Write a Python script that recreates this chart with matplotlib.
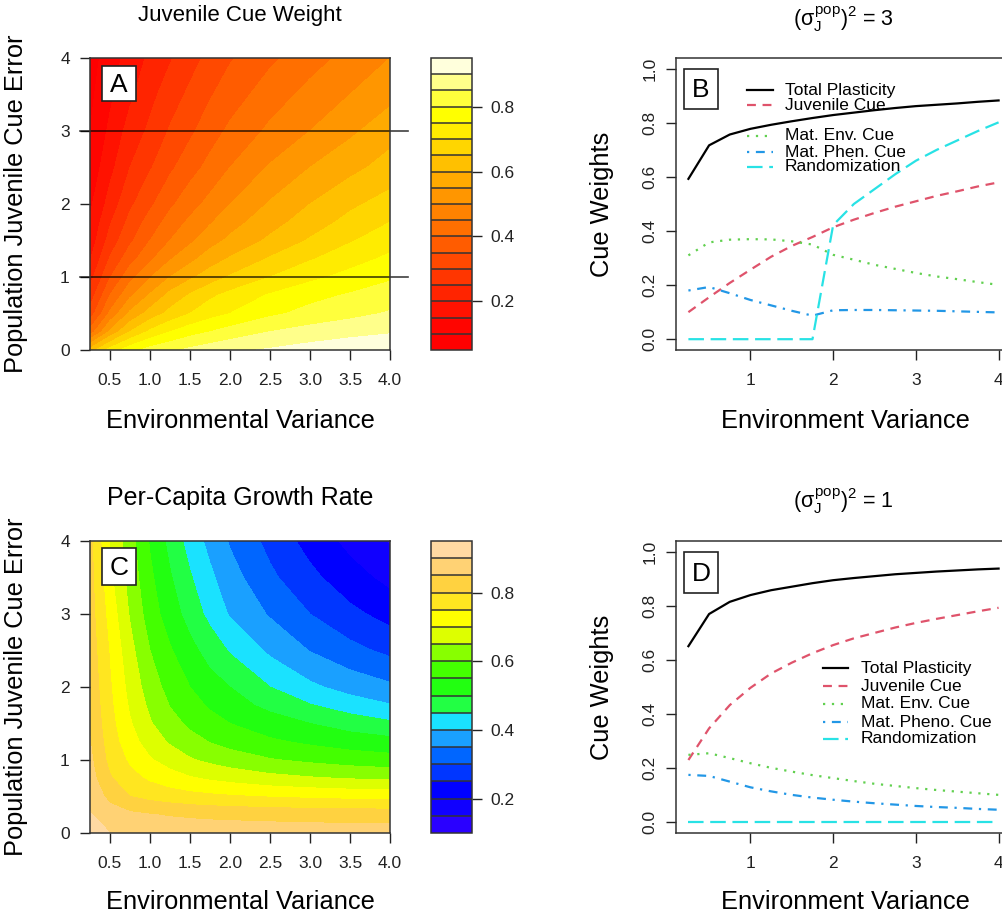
import numpy as np
import matplotlib
matplotlib.use('Agg')
import matplotlib.pyplot as plt
from matplotlib.patches import Rectangle

plt.rcParams['font.family'] = ['Liberation Sans', 'DejaVu Sans']
plt.rcParams['mathtext.fontset'] = 'custom'
plt.rcParams['mathtext.rm'] = 'Liberation Sans'
plt.rcParams['mathtext.it'] = 'Liberation Sans'
plt.rcParams['mathtext.bf'] = 'Liberation Sans:bold'

# ---- data for the two heat maps ----
env_var = [0.25, 0.5, 0.75, 1.0, 1.25, 1.5, 1.75, 2.0, 2.5, 3.0, 3.5, 4.0]
cue_err = [0.0, 0.25, 0.5, 0.75, 1.0, 1.25, 1.5, 1.75, 2.0, 2.5, 3.0, 3.5, 4.0]

# rows = cue error, cols = environmental variance
juv_weight = [
    [0.62, 0.72, 0.78, 0.82, 0.84, 0.86, 0.877, 0.89, 0.905, 0.92, 0.93, 0.94],
    [0.42, 0.56, 0.65, 0.71, 0.75, 0.78, 0.80, 0.82, 0.85, 0.87, 0.885, 0.895],
    [0.32, 0.46, 0.56, 0.62, 0.665, 0.70, 0.73, 0.75, 0.79, 0.815, 0.835, 0.855],
    [0.27, 0.40, 0.49, 0.555, 0.615, 0.655, 0.69, 0.715, 0.755, 0.785, 0.805, 0.823],
    [0.23, 0.347, 0.433, 0.497, 0.55, 0.59, 0.625, 0.655, 0.70, 0.737, 0.766, 0.793],
    [0.195, 0.305, 0.38, 0.44, 0.495, 0.535, 0.575, 0.605, 0.655, 0.695, 0.73, 0.76],
    [0.17, 0.27, 0.34, 0.40, 0.45, 0.49, 0.53, 0.56, 0.61, 0.655, 0.695, 0.73],
    [0.155, 0.245, 0.315, 0.37, 0.42, 0.46, 0.495, 0.53, 0.58, 0.625, 0.665, 0.70],
    [0.14, 0.22, 0.29, 0.34, 0.39, 0.43, 0.465, 0.50, 0.555, 0.60, 0.64, 0.67],
    [0.115, 0.185, 0.25, 0.295, 0.34, 0.38, 0.415, 0.45, 0.505, 0.55, 0.585, 0.62],
    [0.10, 0.16, 0.22, 0.26, 0.305, 0.34, 0.378, 0.41, 0.46, 0.50, 0.54, 0.58],
    [0.088, 0.14, 0.19, 0.235, 0.275, 0.31, 0.345, 0.375, 0.425, 0.465, 0.50, 0.535],
    [0.078, 0.125, 0.17, 0.21, 0.245, 0.28, 0.315, 0.345, 0.39, 0.43, 0.465, 0.50],
]

growth_rate = [
    [0.93, 0.90, 0.89, 0.885, 0.882, 0.88, 0.878, 0.877, 0.875, 0.873, 0.871, 0.87],
    [0.903, 0.875, 0.86, 0.852, 0.846, 0.842, 0.839, 0.837, 0.834, 0.832, 0.831, 0.83],
    [0.885, 0.835, 0.80, 0.785, 0.775, 0.766, 0.76, 0.755, 0.747, 0.741, 0.736, 0.733],
    [0.87, 0.805, 0.766, 0.741, 0.72, 0.705, 0.693, 0.683, 0.666, 0.655, 0.647, 0.641],
    [0.86, 0.785, 0.741, 0.705, 0.68, 0.655, 0.639, 0.625, 0.604, 0.59, 0.578, 0.57],
    [0.852, 0.774, 0.72, 0.677, 0.644, 0.618, 0.598, 0.582, 0.558, 0.541, 0.526, 0.516],
    [0.845, 0.766, 0.705, 0.655, 0.618, 0.59, 0.567, 0.55, 0.522, 0.50, 0.478, 0.459],
    [0.84, 0.76, 0.693, 0.639, 0.598, 0.567, 0.544, 0.52, 0.487, 0.453, 0.425, 0.403],
    [0.835, 0.755, 0.683, 0.625, 0.582, 0.55, 0.52, 0.50, 0.45, 0.41, 0.381, 0.359],
    [0.828, 0.745, 0.666, 0.60, 0.555, 0.515, 0.48, 0.445, 0.39, 0.348, 0.315, 0.288],
    [0.822, 0.73, 0.645, 0.575, 0.525, 0.48, 0.435, 0.395, 0.345, 0.30, 0.263, 0.231],
    [0.818, 0.712, 0.63, 0.56, 0.505, 0.455, 0.41, 0.37, 0.31, 0.263, 0.22, 0.185],
    [0.815, 0.695, 0.62, 0.545, 0.485, 0.43, 0.385, 0.345, 0.285, 0.231, 0.185, 0.145],
]

heat_levels = np.arange(0.05, 0.951, 0.05)
heat_colors = ['#FF0000', '#FF0500', '#FF1200', '#FF2400', '#FF3600', '#FF4900',
               '#FF5C00', '#FF6F00', '#FF8200', '#FF9600', '#FFAA00', '#FFC000',
               '#FFD600', '#FFEC00', '#FFFF00', '#FFFF3C', '#FFFF8A', '#FFFFDC']
growth_levels = np.arange(0.10, 0.951, 0.05)
growth_colors = ['#2A00FF', '#1000FF', '#0000FF', '#0036FF', '#0066FF', '#1AA0FF',
                 '#1AE2FF', '#22FF44', '#22FF11', '#44FF00', '#88FF00', '#DDFF00',
                 '#FFFF00', '#FFE620', '#FFD240', '#FFD274', '#FFD9A2']

# ---- line panels (B: cue error 3, D: cue error 1) ----
env_pts = [0.25, 0.5, 0.75, 1.0, 1.25, 1.5, 1.75, 2.0, 2.25, 2.5, 2.75, 3.0, 3.25, 3.5, 3.75, 4.0]

b_total = [0.593, 0.717, 0.757, 0.778, 0.793, 0.806, 0.818, 0.829, 0.838, 0.847, 0.855, 0.862, 0.867, 0.872, 0.878, 0.883]
b_juv = [0.10, 0.155, 0.208, 0.257, 0.305, 0.345, 0.378, 0.414, 0.442, 0.467, 0.49, 0.51, 0.53, 0.547, 0.565, 0.58]
b_env = [0.31, 0.358, 0.368, 0.37, 0.369, 0.362, 0.35, 0.312, 0.294, 0.275, 0.26, 0.245, 0.232, 0.222, 0.211, 0.201]
b_phen = [0.18, 0.193, 0.17, 0.145, 0.125, 0.105, 0.087, 0.107, 0.108, 0.108, 0.107, 0.106, 0.105, 0.103, 0.101, 0.099]
b_rand = [0, 0, 0, 0, 0, 0, 0, 0.422, 0.50, 0.555, 0.61, 0.66, 0.70, 0.735, 0.77, 0.802]

d_total = [0.651, 0.77, 0.815, 0.84, 0.858, 0.871, 0.884, 0.895, 0.903, 0.91, 0.917, 0.922, 0.927, 0.931, 0.935, 0.938]
d_juv = [0.23, 0.347, 0.433, 0.497, 0.55, 0.59, 0.625, 0.655, 0.68, 0.70, 0.72, 0.737, 0.752, 0.766, 0.78, 0.793]
d_env = [0.249, 0.255, 0.237, 0.218, 0.201, 0.187, 0.174, 0.163, 0.152, 0.142, 0.134, 0.126, 0.119, 0.113, 0.107, 0.101]
d_phen = [0.175, 0.171, 0.15, 0.129, 0.114, 0.101, 0.091, 0.083, 0.076, 0.07, 0.065, 0.06, 0.056, 0.053, 0.049, 0.046]
d_rand = [0] * 16

b_names = ['Total Plasticity', 'Juvenile Cue', 'Mat. Env. Cue', 'Mat. Phen. Cue', 'Randomization']
d_names = ['Total Plasticity', 'Juvenile Cue', 'Mat. Env. Cue', 'Mat. Pheno. Cue', 'Randomization']

line_colors = ['black', '#DF536B', '#61D04F', '#2297E6', '#28E2E5']
line_dashes = [None, (4, 3), (1, 3), (1, 3, 4, 3), (7, 3)]

W, H = 1003, 921
fig = plt.figure(figsize=(W / 100, H / 100), dpi=100)


def px_box(x0, y0, x1, y1):
    return [x0 / W, 1 - y1 / H, (x1 - x0) / W, (y1 - y0) / H]


def fig_text(x, y, s, **kw):
    fig.text(x / W, 1 - y / H, s, ha='center', va='center', **kw)


def letter_box(x0, y0, x1, y1, s):
    fig.patches.append(Rectangle((x0 / W, 1 - y1 / H), (x1 - x0) / W, (y1 - y0) / H,
                                 transform=fig.transFigure, fc='white', ec='#222222',
                                 lw=1.2, zorder=10))
    fig_text((x0 + x1) / 2, (y0 + y1) / 2 + 1, s, fontsize=19, zorder=11)


def heat_panel(ax, cax, z, levels, colors):
    cs = ax.contourf(env_var, cue_err, z, levels=levels, colors=colors)
    ax.set_xlim(0.25, 4)
    ax.set_ylim(0, 4)
    ax.set_xticks([0.5, 1.0, 1.5, 2.0, 2.5, 3.0, 3.5, 4.0])
    ax.set_xticklabels(['0.5', '1.0', '1.5', '2.0', '2.5', '3.0', '3.5', '4.0'])
    ax.set_yticks([0, 1, 2, 3, 4])
    ax.tick_params(direction='out', length=7.5, width=1, labelsize=12.5, colors='#222222')
    ax.tick_params(axis='x', pad=9)
    ax.tick_params(axis='y', pad=7)
    for sp in ax.spines.values():
        sp.set_linewidth(1.1)
        sp.set_color('#333333')
    cb = fig.colorbar(cs, cax=cax, ticks=[0.2, 0.4, 0.6, 0.8], drawedges=True)
    cb.ax.set_yticklabels(['0.2', '0.4', '0.6', '0.8'])
    cb.dividers.set_color('#333333')
    cb.dividers.set_linewidth(1.1)
    cb.outline.set_edgecolor('#333333')
    cb.outline.set_linewidth(1.1)
    cax.tick_params(direction='out', length=7.5, width=1, labelsize=12.5, pad=6, colors='#222222')


def line_panel(ax, series, names, rows, lx0, lx1, tx):
    for y, c, d in zip(series, line_colors, line_dashes):
        ln, = ax.plot(env_pts, y, color=c, lw=1.6)
        if d is not None:
            ln.set_dashes(d)
    lo, hi = min(env_pts), max(env_pts)
    pad = 0.04 * (hi - lo)
    ax.set_xlim(lo - pad, hi + pad)
    ax.set_ylim(-0.04, 1.04)
    ax.set_xticks([1, 2, 3, 4])
    ax.set_xticklabels(['1', '2', '3', '4'])
    ax.set_yticks([0, 0.2, 0.4, 0.6, 0.8, 1.0])
    ax.set_yticklabels(['0.0', '0.2', '0.4', '0.6', '0.8', '1.0'], rotation=90, va='center')
    ax.tick_params(direction='out', length=7.5, width=1, labelsize=12.5, colors='#222222')
    ax.tick_params(axis='x', pad=9)
    ax.tick_params(axis='y', pad=6)
    for sp in ax.spines.values():
        sp.set_linewidth(1.1)
        sp.set_color('#333333')
    # legend drawn by hand so the row spacing can follow the original
    for ry, name, c, d in zip(rows, names, line_colors, line_dashes):
        ln, = ax.plot([lx0, lx1], [ry, ry], transform=ax.transAxes, color=c, lw=1.6, clip_on=False)
        if d is not None:
            ln.set_dashes(d)
        ax.text(tx, ry, name, transform=ax.transAxes, fontsize=12.5, va='center', ha='left')


axA = fig.add_axes(px_box(90, 58, 390, 350))
cbA = fig.add_axes(px_box(431, 58, 472, 350))
axC = fig.add_axes(px_box(90, 541, 390, 833))
cbC = fig.add_axes(px_box(431, 541, 472, 833))
axB = fig.add_axes(px_box(676, 58, 1011, 350))
axD = fig.add_axes(px_box(676, 541, 1011, 833))

heat_panel(axA, cbA, juv_weight, heat_levels, heat_colors)
heat_panel(axC, cbC, growth_rate, growth_levels, growth_colors)

# the two cue-error values used in panels B and D
for e in [1, 3]:
    axA.axhline(e, xmin=-10 / 300, xmax=318 / 300, color='black', alpha=0.75, lw=1.2, clip_on=False)

line_panel(axB, [b_total, b_juv, b_env, b_phen, b_rand], b_names,
           [0.890, 0.839, 0.733, 0.678, 0.627], 0.212, 0.290, 0.325)
line_panel(axD, [d_total, d_juv, d_env, d_phen, d_rand], d_names,
           [0.565, 0.503, 0.442, 0.380, 0.322], 0.439, 0.513, 0.552)

# titles and axis labels
fig_text(240, 15, 'Juvenile Cue Weight', fontsize=16)
fig_text(240, 498, 'Per-Capita Growth Rate', fontsize=18)
fig_text(843, 19, r'$(\sigma_{J}^{pop})^{2}$ = 3', fontsize=15.5)
fig_text(843, 501, r'$(\sigma_{J}^{pop})^{2}$ = 1', fontsize=15.5)

for y in [421, 902]:
    fig_text(240, y, 'Environmental Variance', fontsize=18.3)
    fig_text(845, y, 'Environment Variance', fontsize=18.3)
fig_text(16, 204, 'Population Juvenile Cue Error', fontsize=18.3, rotation=90)
fig_text(16, 687, 'Population Juvenile Cue Error', fontsize=18.3, rotation=90)
fig_text(602, 204, 'Cue Weights', fontsize=18.3, rotation=90)
fig_text(602, 687, 'Cue Weights', fontsize=18.3, rotation=90)

letter_box(102, 66, 136, 101, 'A')
letter_box(684, 69, 718, 109, 'B')
letter_box(102, 548, 136, 585, 'C')
letter_box(684, 552, 718, 593, 'D')

fig.savefig('out.png', dpi=100)
